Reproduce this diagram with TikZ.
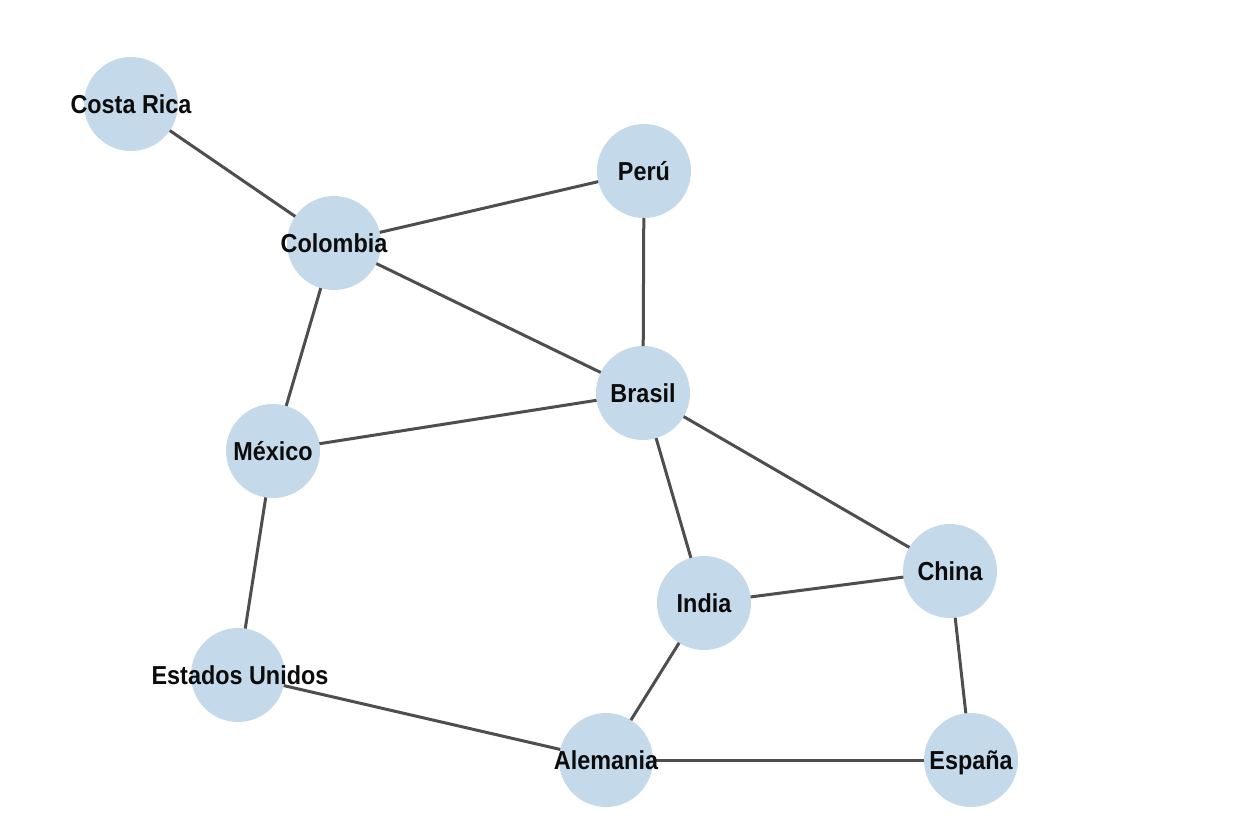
\documentclass[tikz,border=0pt]{standalone}
\usepackage{fontspec}
\setmainfont{Liberation Sans}[BoldFeatures={FakeStretch=0.9}]
\definecolor{nodefill}{RGB}{196,218,234}
\definecolor{edgecol}{RGB}{78,78,78}
\definecolor{textcol}{RGB}{12,12,12}
\tikzset{
  country/.style={circle, fill=nodefill, minimum size=94pt, inner sep=0pt, outer sep=0pt},
  link/.style={draw=edgecol, line width=3pt},
  cname/.style={inner sep=0pt, text=textcol, font=\fontsize{26}{26}\selectfont\bfseries, text height=18.6pt, text depth=0pt}
}
\begin{document}
\begin{tikzpicture}[x=1pt,y=-1pt]
\useasboundingbox[fill=white] (0,0) rectangle (1241,827);
% circles
\node[country] (cr) at (131,104) {};
\node[country] (pe) at (644,171) {};
\node[country] (co) at (334,243) {};
\node[country] (br) at (643,393) {};
\node[country] (mx) at (273,451) {};
\node[country] (in) at (704,603) {};
\node[country] (cn) at (950,571) {};
\node[country] (us) at (238,675) {};
\node[country] (de) at (606,760) {};
\node[country] (es) at (971,760) {};
% edges
\draw[link] (cr) -- (co);
\draw[link] (co) -- (pe);
\draw[link] (co) -- (br);
\draw[link] (co) -- (mx);
\draw[link] (pe) -- (br);
\draw[link] (br) -- (mx);
\draw[link] (br) -- (in);
\draw[link] (br) -- (cn);
\draw[link] (in) -- (cn);
\draw[link] (in) -- (de);
\draw[link] (cn) -- (es);
\draw[link] (mx) -- (us);
\draw[link] (us) -- (de);
\draw[link] (de) -- (es);
% labels
\node[cname] (tcr) at (cr) {\makebox[0pt]{Costa Rica}};
\node[cname] (tpe) at (pe) {\makebox[0pt]{Perú}};
\node[cname] (tco) at (co) {\makebox[0pt]{Colombia}};
\node[cname] (tbr) at (br) {\makebox[0pt]{Brasil}};
\node[cname] (tmx) at (mx) {\makebox[0pt]{México}};
\node[cname] (tin) at (in) {\makebox[0pt]{India}};
\node[cname] (tcn) at (cn) {\makebox[0pt]{China}};
\node[cname] (tus) at ([xshift=2pt]us.center) {\makebox[0pt]{Estados Unidos}};
\node[cname] (tde) at (de) {\makebox[0pt]{Alemania}};
\node[cname] (tes) at (es) {\makebox[0pt]{España}};
\end{tikzpicture}
\end{document}
